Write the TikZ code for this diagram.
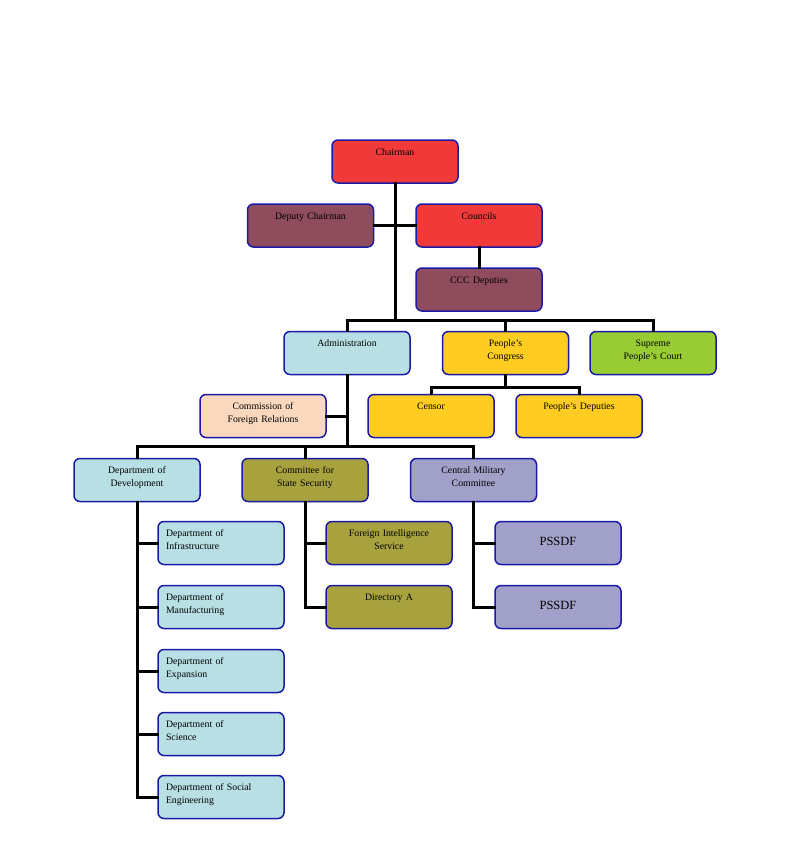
\documentclass[tikz,border=0pt]{standalone}
\usepackage{fontspec}
\setmainfont{Liberation Serif}
\usetikzlibrary{positioning}

\definecolor{edgeblue}{HTML}{1A1AA6}
\definecolor{topred}{HTML}{F03A3A}
\definecolor{mauve}{HTML}{8E4C5C}
\definecolor{paleblue}{HTML}{B8DFE4}
\definecolor{gold}{HTML}{FFCC22}
\definecolor{lime}{HTML}{99CC33}
\definecolor{peach}{HTML}{FAD8BE}
\definecolor{olive}{HTML}{A8A23E}
\definecolor{lavender}{HTML}{A0A0C8}

\tikzset{
  unit/.style={draw=edgeblue, line width=1.5pt, rounded corners=6pt,
    minimum width=126pt, minimum height=43pt, text width=110pt,
    inner xsep=8pt, inner ysep=4pt, text height=11pt, text depth=24pt,
    align=center, font=\fontsize{9.8}{12.5}\selectfont},
  dept/.style={unit, fill=paleblue, align=left},
  bigunit/.style={unit, text height=20pt, text depth=15pt, font=\fontsize{12.5}{14}\selectfont},
  link/.style={line width=3pt, line cap=rect},
}

\begin{document}
\begin{tikzpicture}[x=1pt, y=-1pt]
	 \useasboundingbox (0,0) rectangle (791,844);
	 %
	 \node (chair) at (395,161.5) [unit, fill=topred] {Chairman};
	 \node (deputy) at (310.5,225.5) [unit, fill=mauve] {Deputy Chairman};
	 \node (councils) at (479,225.5) [unit, fill=topred] {Councils};
	 \node (ccc) at (479,289.5) [unit, fill=mauve] {CCC Deputies};
	 %
	 \node (adm) at (347,353) [unit, fill=paleblue] {Administration};
	 \node (congress) at (505.5,353) [unit, fill=gold] {People’s\\Congress};
	 \node (court) at (653,353) [unit, fill=lime] {Supreme\\People’s Court};
	 %
	 \node (commission) at (263,416) [unit, fill=peach] {Commission of\\Foreign Relations};
	 \node (censor) at (431,416) [unit, fill=gold] {Censor};
	 \node (deputies) at (579,416) [unit, fill=gold] {People’s Deputies};
	 %
	 \node (dev) at (137,480) [unit, fill=paleblue] {Department of\\Development};
	 \node (css) at (305,480) [unit, fill=olive] {Committee for\\State Security};
	 \node (cmc) at (473.5,480) [unit, fill=lavender] {Central Military\\Committee};
	 %
	 \node (infra) at (221,543) [dept] {Department of\\Infrastructure};
	 \node (manuf) at (221,607) [dept] {Department of\\Manufacturing};
	 \node (expan) at (221,671) [dept] {Department of\\Expansion};
	 \node (sci) at (221,734) [dept] {Department of\\Science};
	 \node (social) at (221,797) [dept] {Department of Social\\Engineering};
	 %
	 \node (fis) at (389,543) [unit, fill=olive] {Foreign Intelligence\\Service};
	 \node (dira) at (389,607) [unit, fill=olive] {Directory A};
	 \node (pssdfa) at (558,543) [bigunit, fill=lavender] {PSSDF};
	 \node (pssdfb) at (558,607) [bigunit, fill=lavender] {PSSDF};
	 %
	 \coordinate (topbar) at (395,320);
	 \coordinate (admbar) at (347,446);
	 %
	 %Chairman - second row
	 \draw[link] (chair.south) -- (topbar);
	 \draw[link] (deputy.east) -- (councils.west);
	 \draw[link] (councils.south) -- (ccc.north);
	 %
	 %bar over Administration, Congress, Court
	 \draw[link] (adm.north) -- (adm.north |- topbar) -| (court.north);
	 \draw[link] (congress.north) -- (congress.north |- topbar);
	 %
	 %Congress - Censor, Deputies
	 \draw[link] (congress.south) -- ++(0,12) coordinate (cbar) -| (censor.north);
	 \draw[link] (cbar) -| (deputies.north);
	 %
	 %Administration - third row
	 \draw[link] (adm.south) -- (admbar);
	 \draw[link] (commission.east) -- (commission.east -| adm.south);
	 \draw[link] (dev.north) -- (dev.north |- admbar) -| (cmc.north);
	 \draw[link] (css.north) -- (css.north |- admbar);
	 %
	 %Development - departments
	 \draw[link] (dev.south) |- (social.west);
	 \foreach \d in {infra,manuf,expan,sci}
	   \draw[link] (dev.south |- \d.west) -- (\d.west);
	 %
	 %State Security
	 \draw[link] (css.south) |- (dira.west);
	 \draw[link] (css.south |- fis.west) -- (fis.west);
	 %
	 %Military Committee
	 \draw[link] (cmc.south) |- (pssdfb.west);
	 \draw[link] (cmc.south |- pssdfa.west) -- (pssdfa.west);
\end{tikzpicture}
\end{document}
